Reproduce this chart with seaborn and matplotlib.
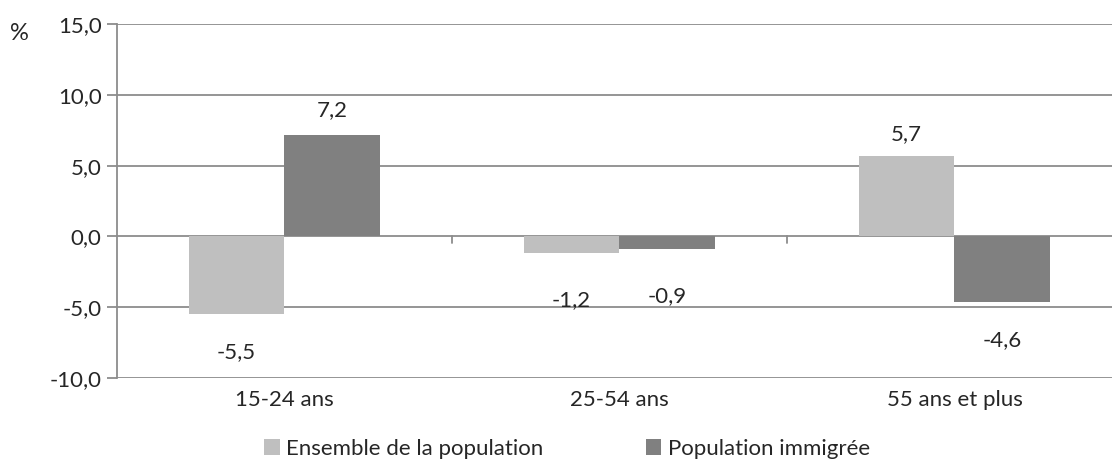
import numpy as np
import pandas as pd
import matplotlib.pyplot as plt
import seaborn as sns

# ── Data ─────────────────────────────────────────────────────
categories = ["15-24 ans", "25-54 ans", "55 ans et plus"]
series     = ["Ensemble de la population", "Population immigrée"]
ensemble   = [-5.5, -1.2, 5.7]
immigree   = [7.2, -0.9, -4.6]
yticks     = [-10, -5, 0, 5, 10, 15]

df = pd.DataFrame({
    "cat":    categories * 2,
    "serie":  [series[0]] * 3 + [series[1]] * 3,
    "valeur": ensemble + immigree,
})

sns.set_style("white")
plt.rcParams["font.family"] = ["Lato", "DejaVu Sans"]
FS = 16

fig = plt.figure(figsize=(11.12, 4.73), dpi=100)
ax = fig.add_axes([0.105, 0.201, 0.904, 0.748])

grid_col = "#8C8C8C"
palette = {series[0]: "#BFBFBF", series[1]: "#808080"}

sns.barplot(data=df, x="cat", y="valeur", hue="serie", palette=palette,
            width=0.57, gap=0, saturation=1, ax=ax, zorder=3,
            edgecolor="none", linewidth=0)

ax.set_ylim(-10, 15)
ax.set_xlim(-0.5, 2.5)
ax.set_yticks(yticks)
ax.set_yticklabels([f"{v:.1f}".replace(".", ",") for v in yticks], fontsize=FS)
for y in yticks:
    ax.axhline(y, color=grid_col, lw=1.3, zorder=1)

# category separators on the zero line
for xb in [0.5, 1.5]:
    ax.plot([xb, xb], [0, -0.45], color=grid_col, lw=1.3, zorder=2)

for s in ["top", "right", "bottom"]:
    ax.spines[s].set_visible(False)
ax.spines["left"].set_color(grid_col)
ax.spines["left"].set_linewidth(1.3)
ax.tick_params(axis="y", length=7, width=1.3, color=grid_col, left=True, pad=4)
ax.tick_params(axis="x", length=0, pad=9, labelsize=FS)
ax.set_xlabel("")
ax.set_ylabel("")
fig.text(0.009, 1 - 34 / 473, "%", fontsize=FS + 1, ha="left", va="center")

# data labels
offsets = {(0, 0): -38, (0, 1): 24, (1, 0): -47, (1, 1): -47,
           (2, 0): 22, (2, 1): -39}
for j, cont in enumerate(ax.containers):
    for i, bar in enumerate(cont):
        val = [ensemble, immigree][j][i]
        x = bar.get_x() + bar.get_width() / 2
        ax.annotate(f"{val:.1f}".replace(".", ","), (x, val),
                    xytext=(0, offsets[(i, j)]), textcoords="offset pixels",
                    ha="center", va="center", fontsize=FS)

leg = ax.legend(loc="upper center", bbox_to_anchor=(0.51, 0.115),
                bbox_transform=fig.transFigure, ncol=2,
                frameon=False, fontsize=FS, handlelength=0.7,
                handleheight=0.7, handletextpad=0.3, columnspacing=4.6)

plt.savefig("out.png", dpi=100)
